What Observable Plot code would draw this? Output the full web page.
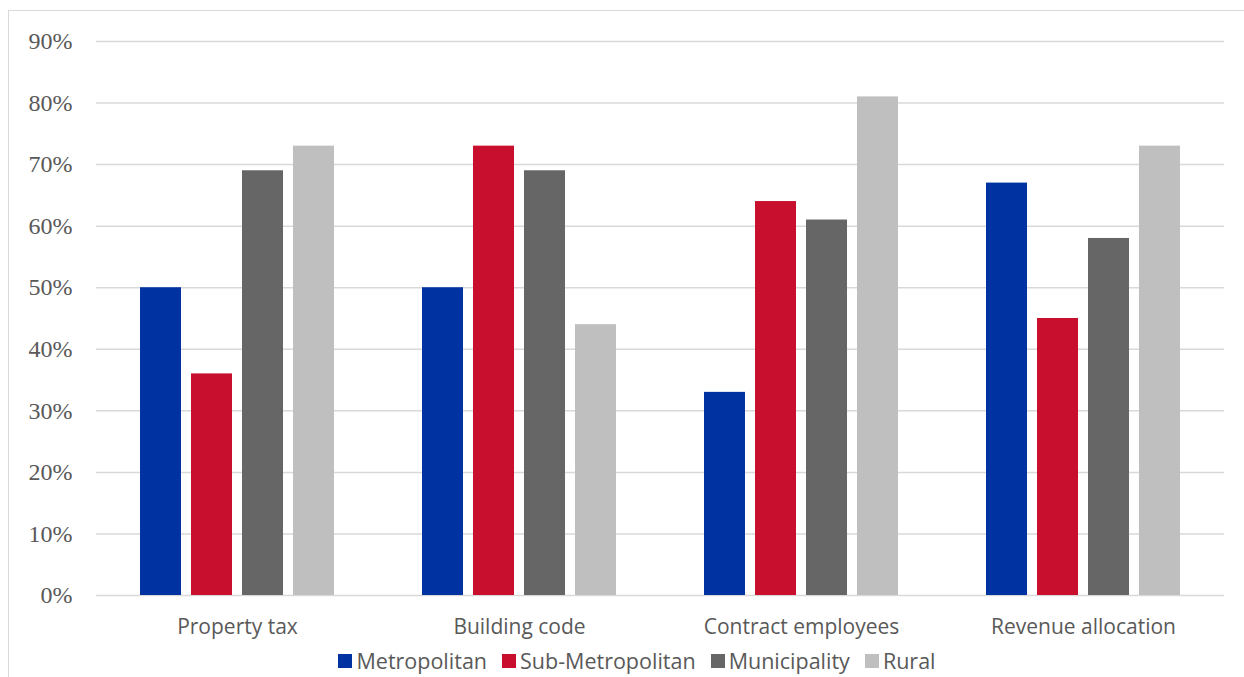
<!DOCTYPE html>
<html><head><meta charset="utf-8">
<script src="https://cdn.jsdelivr.net/npm/d3@7"></script>
<script src="https://cdn.jsdelivr.net/npm/@observablehq/plot@0.6"></script>
<style>
html,body{margin:0;padding:0;background:#fff;overflow:hidden;}
#wrap{position:relative;width:1244px;height:677px;}
#frame{position:absolute;left:8px;top:10px;width:1400px;height:800px;border:1.5px solid #d9d9d9;box-sizing:border-box;}
#chart{position:absolute;left:0;top:0;}
#legend{position:absolute;left:0;top:643px;width:1244px;height:35px;display:flex;justify-content:center;align-items:center;font-family:"Open Sans",sans-serif;font-size:21.5px;color:#595959;padding-left:30px;box-sizing:border-box;}
.item{display:flex;align-items:center;margin:0 7.5px;}
.sw{width:14px;height:14px;margin-right:4px;}
</style></head>
<body><div id="wrap"><div id="frame"></div><div id="chart"></div><div id="legend"></div></div>
<script>
const categories = ["Property tax", "Building code", "Contract employees", "Revenue allocation"];
const seriesNames = ["Metropolitan", "Sub-Metropolitan", "Municipality", "Rural"];
const colors = ["#0033a1", "#c8102e", "#666666", "#bfbfbf"];
const metropolitan = [50, 50, 33, 67];
const subMetropolitan = [36, 73, 64, 45];
const municipality = [69, 69, 61, 58];
const rural = [73, 44, 81, 73];
const yTicks = [0, 10, 20, 30, 40, 50, 60, 70, 80, 90];

const seriesValues = [metropolitan, subMetropolitan, municipality, rural];
const data = [];
categories.forEach((c, i) => seriesNames.forEach((s, j) => data.push({category: c, series: s, value: seriesValues[j][i]})));

const chart = Plot.plot({
  width: 1244,
  height: 643,
  marginLeft: 96,
  marginRight: 20,
  marginTop: 41,
  marginBottom: 48,
  style: {background: "transparent"},
  fx: {domain: categories, padding: 0, label: null},
  x: {domain: seriesNames, paddingInner: 0.2, paddingOuter: 0.838, axis: null},
  y: {domain: [0, 90], axis: null},
  color: {domain: seriesNames, range: colors},
  marks: [
    Plot.ruleY(yTicks, {stroke: "#d9d9d9", strokeWidth: 1.5}),
    Plot.barY(data, {fx: "category", x: "series", y: "value", fill: "series"}),
    Plot.axisY(yTicks, {tickSize: 0, tickPadding: 24, tickFormat: d => d + "%", fontFamily: "Liberation Serif, serif", fontSize: 24, fill: "#595959", label: null}),
    Plot.axisFx({anchor: "bottom", tickSize: 0, tickPadding: 23.5, fontFamily: "Open Sans, sans-serif", fontSize: 21, fill: "#595959", label: null})
  ]
});
document.getElementById("chart").appendChild(chart);

const legend = document.getElementById("legend");
seriesNames.forEach((s, i) => {
  const it = document.createElement("div");
  it.className = "item";
  it.innerHTML = `<span class="sw" style="background:${colors[i]}"></span><span>${s}</span>`;
  legend.appendChild(it);
});
</script></body></html>
